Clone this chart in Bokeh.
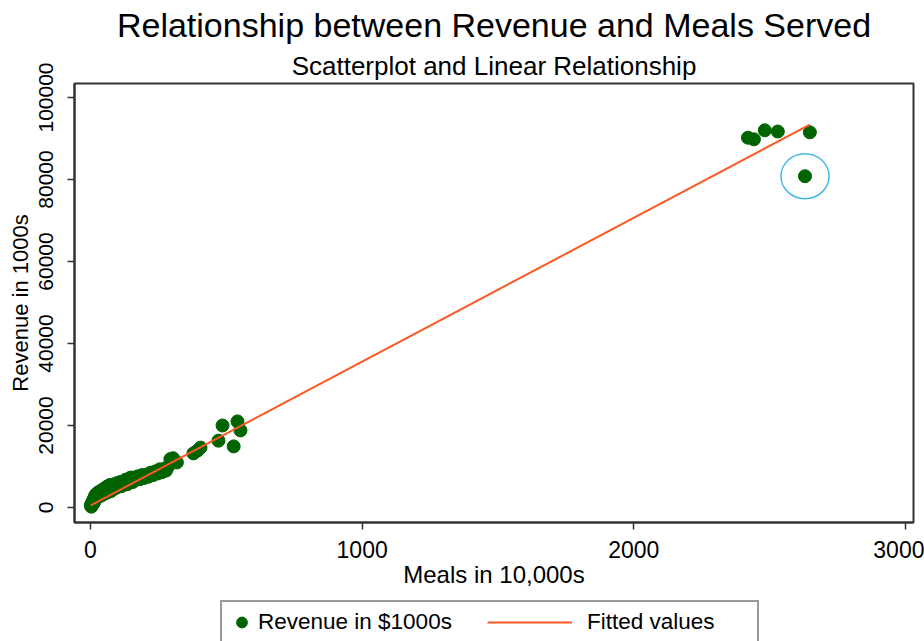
from bokeh.plotting import figure
from bokeh.layouts import column
from bokeh.models import Legend, LegendItem, FixedTicker, NumeralTickFormatter, Title, Range1d
from bokeh.embed import file_html
from bokeh.resources import INLINE

# ---- data ----
meals_cluster = [1, 3, 5, 6, 8, 10, 12, 13, 15, 17, 19, 21, 23, 25, 27, 29, 31, 34, 36, 39,
                 42, 45, 47, 50, 53, 56, 59, 62, 65, 68, 72, 75, 79, 83, 87, 91, 95, 100, 104, 109,
                 114, 119, 124, 130, 136, 142, 148, 155, 161, 168, 175, 182, 190, 197, 205, 213, 221, 230, 238, 247,
                 255, 262, 270, 278, 286, 294, 300, 304, 318]
revenue_cluster = [500, 200, 1100, 600, 1500, 900, 2000, 1300, 2600, 1800, 3100, 2200, 2900, 3500, 2500, 3200, 3800, 2800, 3600, 4100,
                   3000, 4300, 3500, 4600, 3400, 4400, 5000, 3700, 5200, 4300, 5500, 4000, 5300, 4400, 5600, 4700, 5900, 5000, 5500, 6200,
                   5200, 6300, 5600, 6800, 5700, 6600, 7300, 6200, 7300, 6800, 7600, 6900, 7900, 7200, 8000, 7500, 8500, 7900, 8800, 8300,
                   9300, 8600, 9400, 9000, 10000, 11800, 11000, 12000, 11000]
meals_mid = [379, 394, 405, 471, 486, 527, 541, 552]
revenue_mid = [13200, 13900, 14600, 16300, 20000, 14900, 21000, 18800]
meals_top = [2420, 2442, 2482, 2530, 2648, 2630]
revenue_top = [90200, 89800, 92000, 91700, 91500, 80800]

meals = meals_cluster + meals_mid + meals_top
revenue = revenue_cluster + revenue_mid + revenue_top

fit_meals = [1, 2648]
fit_revenue = [520, 93400]

highlight_meals = [2630]
highlight_revenue = [80800]

x_ticks = [0, 1000, 2000, 3000]
y_ticks = [0, 20000, 40000, 60000, 80000, 100000]

title_text = "Relationship between Revenue and Meals Served"
subtitle_text = "Scatterplot and Linear Relationship"
x_title = "Meals in 10,000s"
y_title = "Revenue in 1000s"
legend_labels = ["Revenue in $1000s", "Fitted values"]

FONT = "Liberation Sans"
DARK = "#333333"
GREEN = "#006400"
ORANGE = "#FF5722"
W = 924
NAN = float("nan")

# ---- main plot ----
p = figure(width=W, height=594, output_backend="svg", toolbar_location=None,
           x_range=(-58.9, 3029.4), y_range=(-3659, 103415),
           min_border_left=74, min_border_right=11, min_border_top=83, min_border_bottom=72,
           background_fill_color="white", border_fill_color="white")
p.grid.visible = False
p.outline_line_color = DARK
p.outline_line_width = 2

# titles: first added sits nearest the frame
p.add_layout(Title(text=subtitle_text, align="center", text_font=FONT, text_font_size="26px",
                   text_font_style="normal", text_color="black", standoff=5), "above")
p.add_layout(Title(text=title_text, align="center", text_font=FONT, text_font_size="34px",
                   text_font_style="normal", text_color="black", standoff=6), "above")

p.scatter(meals, revenue, size=13, color=GREEN, line_color=GREEN)
p.line(fit_meals, fit_revenue, line_color=ORANGE, line_width=2)
p.ellipse(highlight_meals, highlight_revenue, width=48, height=45,
          width_units="screen", height_units="screen",
          fill_color=None, line_color="#45B8EA", line_width=1.5)

for ax in (p.xaxis[0], p.yaxis[0]):
    ax.axis_line_color = DARK
    ax.axis_line_width = 2
    ax.major_tick_line_color = DARK
    ax.major_tick_line_width = 1.5
    ax.major_tick_in = 0
    ax.major_tick_out = 7
    ax.minor_tick_line_color = None
    ax.major_label_text_font = FONT
    ax.major_label_text_color = "black"
    ax.axis_label_text_font = FONT
    ax.axis_label_text_font_style = "normal"
    ax.axis_label_text_color = "black"

p.xaxis.ticker = FixedTicker(ticks=x_ticks)
p.yaxis.ticker = FixedTicker(ticks=y_ticks)
p.yaxis.formatter = NumeralTickFormatter(format="0")
p.xaxis.formatter = NumeralTickFormatter(format="0")
p.xaxis.major_label_text_font_size = "23px"
p.yaxis.major_label_text_font_size = "21px"
p.yaxis.major_label_orientation = "vertical"
p.xaxis.major_label_standoff = 11
p.yaxis.major_label_standoff = 14
p.xaxis.axis_label = x_title
p.yaxis.axis_label = y_title
p.xaxis.axis_label_text_font_size = "24px"
p.yaxis.axis_label_text_font_size = "22px"
p.xaxis.axis_label_standoff = 0
p.yaxis.axis_label_standoff = 4

# ---- legend strip (frame aligned with the main plot's frame) ----
leg_fig = figure(width=W, height=47, output_backend="svg", toolbar_location=None,
                 x_range=Range1d(0, 1), y_range=Range1d(0, 1),
                 min_border_left=74, min_border_right=11, min_border_top=0, min_border_bottom=0,
                 x_axis_type=None, y_axis_type=None,
                 background_fill_color="white", border_fill_color="white")
leg_fig.grid.visible = False
leg_fig.outline_line_color = None
dot = leg_fig.scatter([NAN], [NAN], size=13, color=GREEN, line_color=GREEN)
ln = leg_fig.line([NAN, NAN], [NAN, NAN], line_color=ORANGE, line_width=2)
common = dict(orientation="horizontal", glyph_height=28, label_height=28, padding=6,
              margin=0, spacing=0, label_text_font=FONT, label_text_font_size="22.5px",
              label_text_color="black")
leg_a = Legend(items=[LegendItem(label=legend_labels[0], renderers=[dot])],
               location=(146, -3), glyph_width=27, label_width=493, label_standoff=3,
               border_line_color=DARK, border_line_width=2,
               background_fill_color="white", background_fill_alpha=1, **common)
leg_b = Legend(items=[LegendItem(label=legend_labels[1], renderers=[ln])],
               location=(413, 5), glyph_width=85, label_standoff=15,
               border_line_color=None, background_fill_alpha=0, **common)
leg_fig.add_layout(leg_a, "center")
leg_fig.add_layout(leg_b, "center")

layout = column(p, leg_fig, spacing=0)
open("out.html", "w").write(file_html(layout, INLINE))
